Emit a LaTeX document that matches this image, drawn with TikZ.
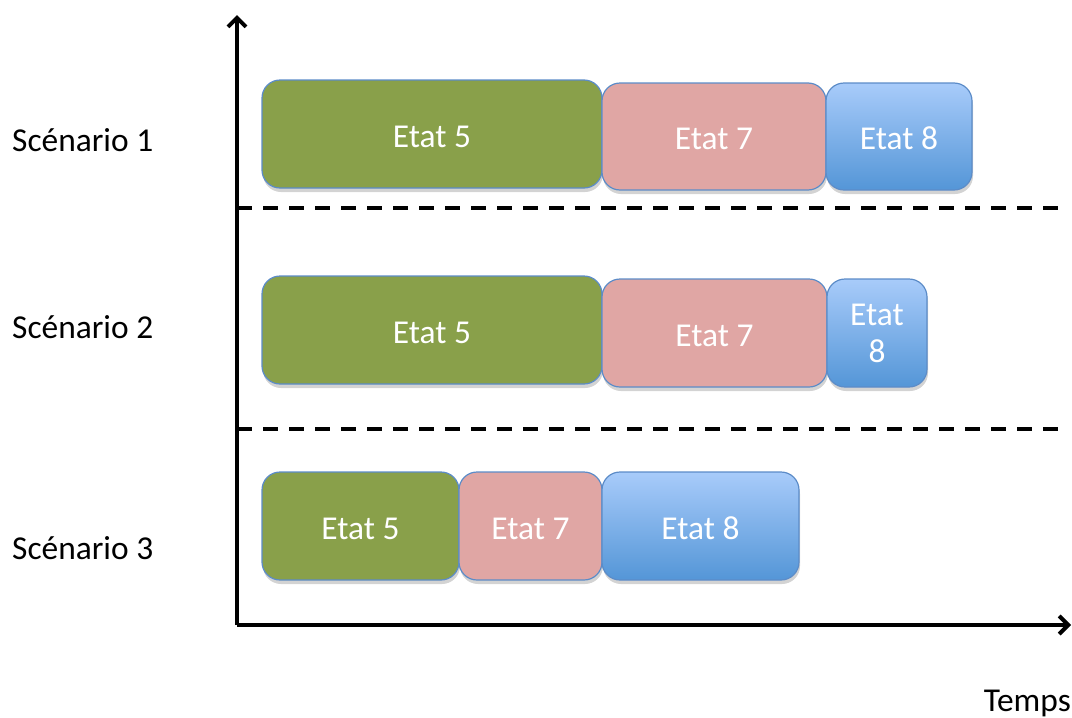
\documentclass[tikz,border=0pt]{standalone}
\usepackage{fontspec}
\setmainfont{Carlito}
\usepackage{tikz}
\usetikzlibrary{arrows.meta}
\usetikzlibrary{shadows}
\definecolor{olive}{RGB}{137,160,74}
\definecolor{rosee}{RGB}{224,166,164}
\definecolor{bleuh}{RGB}{168,203,250}
\definecolor{bleub}{RGB}{84,150,215}
\definecolor{bord}{RGB}{92,140,200}
\tikzstyle{etat} = [draw=bord,line width=1.2pt,rounded corners=18pt,inner sep=0pt,
  text=white,align=center,text height=27pt,
  drop shadow={opacity=0.35,shadow xshift=1pt,shadow yshift=-4pt}]
\tikzstyle{vert} = [etat,fill=olive]
\tikzstyle{rose} = [etat,fill=rosee]
\tikzstyle{bleu} = [etat,top color=bleuh,bottom color=bleub]
\tikzstyle{axe} = [line width=4pt,->]
\tikzstyle{sep} = [line width=4pt,dash pattern=on 15pt off 11pt]

\begin{document}
\begin{tikzpicture}[x=1pt,y=-1pt,>={Straight Barb[length=9pt,width=18pt]},
  font=\fontsize{33.4}{40}\selectfont]
\useasboundingbox (0,0) rectangle (1072,718);

% axes
    \coordinate (o) at (237,625);
    \coordinate (haut) at (237,15);
    \coordinate (droite) at (1071,625);
    \draw[axe] (o) -- (haut);
    \draw[axe] (o) -- (droite);

% separations
    \coordinate (s1a) at (237,208);
    \coordinate (s1b) at (1060,208);
    \coordinate (s2a) at (237,429);
    \coordinate (s2b) at (1060,429);
    \draw[sep] (s1a) -- (s1b);
    \draw[sep] (s2a) -- (s2b);

% scenario 1
    \node[vert,minimum width=340,minimum height=108] at (432,134) (a5) {Etat 5};
    \node[rose,minimum width=224,minimum height=107] at (714,136.5) (a7) {Etat 7};
    \node[bleu,minimum width=146,minimum height=107] at (899,136.5) (a8) {Etat 8};

% scenario 2
    \node[vert,minimum width=340,minimum height=108] at (432,330) (b5) {Etat 5};
    \node[rose,minimum width=225,minimum height=108] at (714.5,333) (b7) {Etat 7};
    \node[bleu,minimum width=100,minimum height=108,text height=,
      font=\fontsize{33.4}{37}\selectfont] at (877,333) (b8) {Etat\\8};

% scenario 3
    \node[vert,minimum width=197,minimum height=108] at (360.5,526) (c5) {Etat 5};
    \node[rose,minimum width=143,minimum height=108] at (530.5,526) (c7) {Etat 7};
    \node[bleu,minimum width=197,minimum height=108] at (700.5,526) (c8) {Etat 8};

% etiquettes
    \node[anchor=west,inner sep=0pt] at (12,140) (l1) {Scénario 1};
    \node[anchor=west,inner sep=0pt] at (12,327) (l2) {Scénario 2};
    \node[anchor=west,inner sep=0pt] at (12,548) (l3) {Scénario 3};
    \node[anchor=east,inner sep=0pt] at (1071,703) (t) {Temps};

\end{tikzpicture}
\end{document}
